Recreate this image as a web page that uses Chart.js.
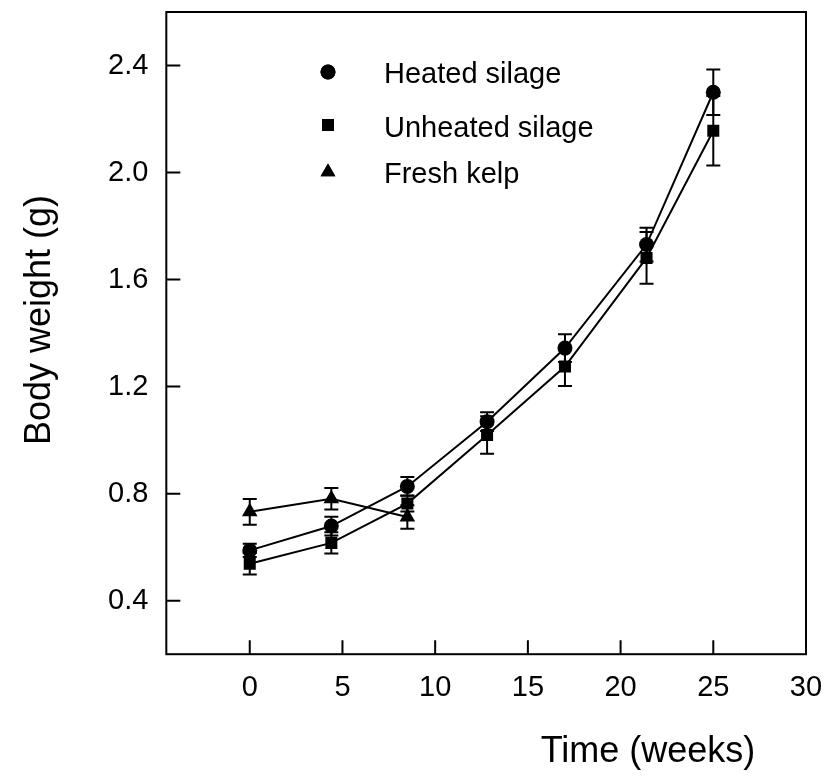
<!DOCTYPE html>
<html>
<head>
<meta charset="utf-8">
<title>Body weight over time</title>
<script src="https://cdn.jsdelivr.net/npm/chart.js@4/dist/chart.umd.min.js"></script>
<style>
  html, body { margin: 0; padding: 0; background: #fff; }
  #wrap { width: 830px; height: 781px; }
</style>
</head>
<body>
<div id="wrap"><canvas id="chart" width="830" height="781"></canvas></div>
<script>
// ── data ──────────────────────────────────────────────────────
const weeks       = [0, 4.4, 8.5, 12.8, 17.0, 21.4, 25.0];
const kelpWeeks   = [0, 4.4, 8.5];

const heated      = [0.588, 0.679, 0.827, 1.069, 1.344, 1.731, 2.300];
const heatedErr   = [0.025, 0.035, 0.035, 0.035, 0.052, 0.063, 0.085];
const unheated    = [0.538, 0.616, 0.763, 1.019, 1.275, 1.681, 2.156];
const unheatedErr = [0.040, 0.040, 0.030, 0.070, 0.073, 0.097, 0.130];
const kelp        = [0.732, 0.781, 0.713];
const kelpErr     = [0.048, 0.040, 0.044];

const seriesNames = ["Heated silage", "Unheated silage", "Fresh kelp"];
const xTicks      = [0, 5, 10, 15, 20, 25, 30];
const yTicks      = [0.4, 0.8, 1.2, 1.6, 2.0, 2.4];

// ── helpers ───────────────────────────────────────────────────
const FONT = "'Liberation Sans', Arial, Helvetica, sans-serif";
const pts = (xs, ys) => xs.map((x, i) => ({ x, y: ys[i] }));

// error bars, drawn under the markers
const errorBars = {
  id: "errorBars",
  beforeDatasetsDraw(chart) {
    const { ctx, scales: { x, y } } = chart;
    ctx.save();
    ctx.strokeStyle = "#000";
    ctx.lineWidth = 2;
    chart.data.datasets.forEach((ds) => {
      ds.errors.forEach((e, i) => {
        const p = ds.data[i];
        const px = x.getPixelForValue(p.x);
        const top = y.getPixelForValue(p.y + e);
        const bot = y.getPixelForValue(p.y - e);
        ctx.beginPath();
        ctx.moveTo(px, top); ctx.lineTo(px, bot);
        ctx.moveTo(px - 7, top); ctx.lineTo(px + 7, top);
        ctx.moveTo(px - 7, bot); ctx.lineTo(px + 7, bot);
        ctx.stroke();
      });
    });
    ctx.restore();
  },
};

// box frame + inward tick marks
const frame = {
  id: "frame",
  beforeDatasetsDraw(chart) {
    const { ctx, chartArea: a, scales: { x, y } } = chart;
    ctx.save();
    ctx.strokeStyle = "#000";
    ctx.lineWidth = 2;
    ctx.strokeRect(a.left, a.top, a.right - a.left, a.bottom - a.top);
    ctx.beginPath();
    xTicks.forEach((v) => {
      const px = x.getPixelForValue(v);
      if (px >= a.right - 1) return;
      ctx.moveTo(px, a.bottom); ctx.lineTo(px, a.bottom - 14);
    });
    yTicks.forEach((v) => {
      const py = y.getPixelForValue(v);
      ctx.moveTo(a.left, py); ctx.lineTo(a.left + 14, py);
    });
    ctx.stroke();
    ctx.restore();
  },
};

// legend inside the plot + axis titles
const annotations = {
  id: "annotations",
  afterDraw(chart) {
    const { ctx } = chart;
    ctx.save();
    ctx.fillStyle = "#000";
    const rows = [
      { style: "circle",   radius: 7.5, y: 72,  base: 83 },
      { style: "rect",     radius: 8.5, y: 125, base: 137 },
      { style: "triangle", radius: 8.5, y: 172, base: 183 },
    ];
    rows.forEach((r, i) => {
      Chart.helpers.drawPoint(ctx, { pointStyle: r.style, radius: r.radius, rotation: 0, borderWidth: 0 }, 328, r.y);
      ctx.fill();
      ctx.font = "29px " + FONT;
      ctx.textAlign = "left";
      ctx.textBaseline = "alphabetic";
      ctx.fillText(seriesNames[i], 384, r.base);
    });

    ctx.font = "36px " + FONT;
    ctx.textAlign = "center";
    ctx.textBaseline = "middle";
    ctx.fillText("Time (weeks)", 648, 752);

    ctx.translate(40, 320);
    ctx.rotate(-Math.PI / 2);
    ctx.fillText("Body weight (g)", 0, 0);
    ctx.restore();
  },
};

// ── chart ─────────────────────────────────────────────────────
const common = {
  borderColor: "#000",
  backgroundColor: "#000",
  pointBackgroundColor: "#000",
  pointBorderColor: "#000",
  borderWidth: 2,
  pointBorderWidth: 0,
  tension: 0,
  fill: false,
};

new Chart(document.getElementById("chart"), {
  type: "line",
  data: {
    datasets: [
      { ...common, label: seriesNames[0], data: pts(weeks, heated),   errors: heatedErr,   pointStyle: "circle",   pointRadius: 7.5 },
      { ...common, label: seriesNames[1], data: pts(weeks, unheated), errors: unheatedErr, pointStyle: "rect",     pointRadius: 8.5 },
      { ...common, label: seriesNames[2], data: pts(kelpWeeks, kelp), errors: kelpErr,     pointStyle: "triangle", pointRadius: 9 },
    ],
  },
  options: {
    responsive: false,
    animation: false,
    layout: { padding: { left: 90, right: 24, top: 12, bottom: 60 } },
    plugins: { legend: { display: false }, tooltip: { enabled: false } },
    scales: {
      x: {
        type: "linear",
        min: -4.5,
        max: 30,
        afterBuildTicks: (s) => { s.ticks = xTicks.map((v) => ({ value: v })); },
        afterFit: (s) => { s.paddingLeft = 0; s.paddingRight = 0; },
        grid: { display: false, drawTicks: false },
        border: { display: false },
        ticks: { color: "#000", padding: 16, maxRotation: 0, font: { family: FONT, size: 29 } },
      },
      y: {
        type: "linear",
        min: 0.2,
        max: 2.6,
        afterBuildTicks: (s) => { s.ticks = yTicks.map((v) => ({ value: v })); },
        afterFit: (s) => { s.paddingTop = 0; s.paddingBottom = 0; },
        grid: { display: false, drawTicks: false },
        border: { display: false },
        ticks: { color: "#000", padding: 18, font: { family: FONT, size: 29 }, callback: (v) => v.toFixed(1) },
      },
    },
  },
  plugins: [frame, errorBars, annotations],
});
</script>
</body>
</html>
